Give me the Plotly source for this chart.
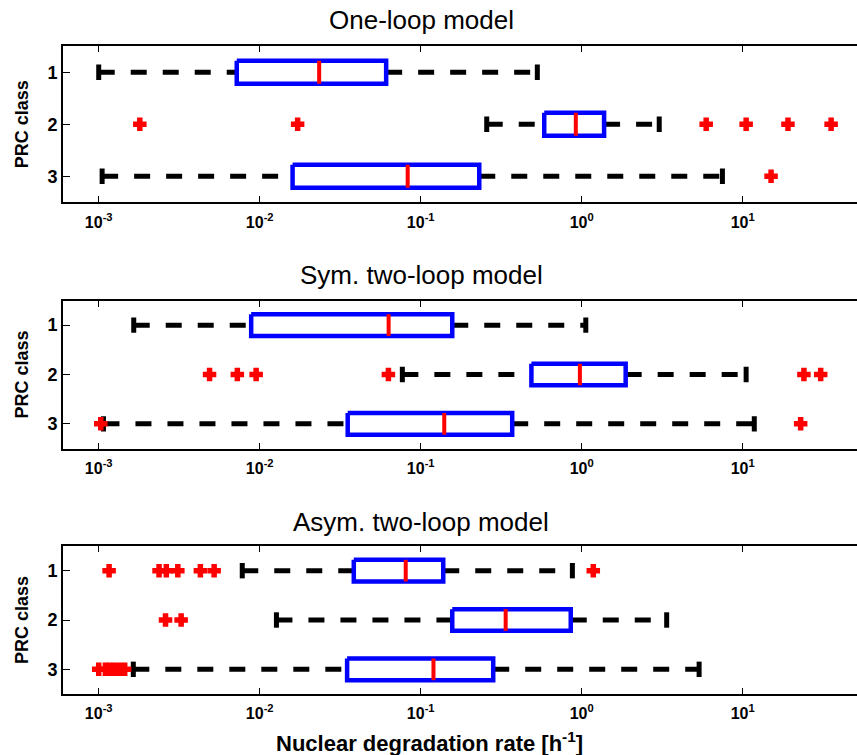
import math
import plotly.graph_objects as go

# ---------------- data ----------------
classes = [1, 2, 3]
class_labels = ["1", "2", "3"]
model_titles = ["One-loop model", "Sym. two-loop model", "Asym. two-loop model"]
x_title = "Nuclear degradation rate [h<sup>-1</sup>]"
y_title = "PRC class"

tick_vals = [1e-3, 1e-2, 1e-1, 1e0, 1e1]
tick_text = ["10<sup>-3</sup>", "10<sup>-2</sup>", "10<sup>-1</sup>", "10<sup>0</sup>", "10<sup>1</sup>"]

# One-loop model (classes 1, 2, 3)
one_lower = [1.0e-3, 0.257, 1.05e-3]
one_q1 = [7.2e-3, 0.585, 0.016]
one_median = [0.0234, 0.919, 0.083]
one_q3 = [0.061, 1.377, 0.231]
one_upper = [0.53, 3.03, 7.48]
one_outliers = [[], [1.8e-3, 0.0172, 5.93, 10.5, 19.1, 35.4], [15.0]]

# Symmetric two-loop model
sym_lower = [1.65e-3, 0.0769, 1.07e-3]
sym_q1 = [8.85e-3, 0.487, 0.0352]
sym_median = [0.0632, 0.974, 0.140]
sym_q3 = [0.157, 1.875, 0.370]
sym_upper = [1.06, 10.5, 11.8]
sym_outliers = [[], [4.88e-3, 7.26e-3, 9.5e-3, 0.063, 24.0, 30.5], [1.03e-3, 22.9]]

# Asymmetric two-loop model
asym_lower = [7.79e-3, 0.0127, 1.64e-3]
asym_q1 = [0.0384, 0.157, 0.0349]
asym_median = [0.0807, 0.337, 0.120]
asym_q3 = [0.138, 0.855, 0.282]
asym_upper = [0.875, 3.37, 5.36]
asym_outliers = [[1.16e-3, 2.37e-3, 2.63e-3, 3.10e-3, 4.28e-3, 5.21e-3, 1.18],
                 [2.6e-3, 3.25e-3],
                 [1.0e-3, 1.1e-3, 1.17e-3, 1.25e-3, 1.35e-3, 1.45e-3]]

models = [
    (one_lower, one_q1, one_median, one_q3, one_upper, one_outliers),
    (sym_lower, sym_q1, sym_median, sym_q3, sym_upper, sym_outliers),
    (asym_lower, asym_q1, asym_median, asym_q3, asym_upper, asym_outliers),
]

# ---------------- styling ----------------
W, H = 872, 755          # plot area runs past the 857px window edge (clipped like the reference)
ML = 63
PX_PER_DECADE = 161.0
HALF = 0.22
BLUE = "#0000FF"
RED = "#FF0000"
FONT = "Liberation Sans, Arial, Helvetica, sans-serif"

y_domains = [
    [1 - 202.3 / H, 1 - 46.3 / H],
    [1 - 448.5 / H, 1 - 300.5 / H],
    [1 - 694.0 / H, 1 - 546.0 / H],
]
title_y_px = [20, 275, 522]
x_left = math.log10(6.0e-4)
x_range = [x_left, x_left + (W - ML) / PX_PER_DECADE]

fig = go.Figure()

for i, (lo, q1, med, q3, up, outs) in enumerate(models):
    xa = "x" if i == 0 else f"x{i+1}"
    ya = "y" if i == 0 else f"y{i+1}"
    for k, c in enumerate(classes):
        dash_line = dict(color="black", width=5, dash="16px,16px")
        # whiskers
        fig.add_trace(go.Scatter(x=[lo[k], q1[k]], y=[c, c], mode="lines",
                                 line=dash_line, xaxis=xa, yaxis=ya,
                                 showlegend=False, hoverinfo="skip"))
        fig.add_trace(go.Scatter(x=[q3[k], up[k]], y=[c, c], mode="lines",
                                 line=dash_line, xaxis=xa, yaxis=ya,
                                 showlegend=False, hoverinfo="skip"))
        # whisker caps
        fig.add_trace(go.Scatter(x=[lo[k], up[k]], y=[c, c], mode="markers",
                                 marker=dict(symbol="line-ns", size=11,
                                             line=dict(color="black", width=5)),
                                 xaxis=xa, yaxis=ya, showlegend=False,
                                 hoverinfo="skip"))
        # box
        fig.add_trace(go.Scatter(x=[q1[k], q3[k], q3[k], q1[k], q1[k]],
                                 y=[c - HALF, c - HALF, c + HALF, c + HALF, c - HALF],
                                 mode="lines", fill="toself", fillcolor="white",
                                 line=dict(color=BLUE, width=4.5),
                                 xaxis=xa, yaxis=ya, showlegend=False,
                                 hoverinfo="skip"))
        # median
        fig.add_trace(go.Scatter(x=[med[k], med[k]], y=[c - HALF, c + HALF],
                                 mode="lines", line=dict(color=RED, width=4),
                                 xaxis=xa, yaxis=ya, showlegend=False,
                                 hoverinfo="skip"))
        # outliers
        if outs[k]:
            fig.add_trace(go.Scatter(x=outs[k], y=[c] * len(outs[k]), mode="markers",
                                     marker=dict(symbol="cross", size=10, color=RED,
                                                 line=dict(width=1.5, color=RED)),
                                     xaxis=xa, yaxis=ya, showlegend=False,
                                     hoverinfo="skip"))

layout = dict(
    width=W, height=H,
    margin=dict(l=ML, r=0, t=0, b=0, autoexpand=False),
    paper_bgcolor="white", plot_bgcolor="white",
    font=dict(family=FONT, color="black"),
    showlegend=False,
)

for i in range(3):
    xk = "xaxis" if i == 0 else f"xaxis{i+1}"
    yk = "yaxis" if i == 0 else f"yaxis{i+1}"
    ya = "y" if i == 0 else f"y{i+1}"
    xa = "x" if i == 0 else f"x{i+1}"
    xaxis = dict(
        type="log", range=x_range, domain=[0, 1], anchor=ya,
        tickvals=tick_vals, ticktext=["<b>" + t + "</b>" for t in tick_text],
        ticks="inside", ticklen=6, tickwidth=1, tickcolor="black",
        showline=True, linewidth=2, linecolor="black", mirror="allticks",
        showgrid=False, zeroline=False, automargin=False,
        ticklabelstandoff=4,
        tickfont=dict(family=FONT, size=16, color="black"),
    )
    yaxis = dict(
        range=[3.5, 0.5], domain=y_domains[i], anchor=xa,
        tickvals=classes, ticktext=["<b>" + t + "</b>" for t in class_labels],
        ticks="inside", ticklen=7, tickwidth=1, tickcolor="black",
        showline=True, linewidth=2, linecolor="black", mirror=False,
        showgrid=False, zeroline=False, automargin=False,
        tickfont=dict(family=FONT, size=18, color="black"),
        title=dict(text="<b>" + y_title + "</b>",
                   font=dict(family=FONT, size=18, color="black"),
                   standoff=14),
    )
    layout[xk] = xaxis
    layout[yk] = yaxis

annotations = []
for i, t in enumerate(model_titles):
    annotations.append(dict(
        text=t, xref="paper", yref="paper",
        x=(421 - ML) / (W - ML), y=1 - title_y_px[i] / H,
        xanchor="center", yanchor="middle", showarrow=False,
        font=dict(family=FONT, size=26, color="black"),
    ))
annotations.append(dict(
    text="<b>" + x_title + "</b>", xref="paper", yref="paper",
    x=(429 - ML) / (W - ML), y=1 - 742 / H,
    xanchor="center", yanchor="middle", showarrow=False,
    font=dict(family=FONT, size=22, color="black"),
))
layout["annotations"] = annotations

fig.update_layout(**layout)
fig.write_html("out.html", config={"displayModeBar": False},
               post_script="document.body.style.margin='0';document.body.style.overflow='hidden';")
